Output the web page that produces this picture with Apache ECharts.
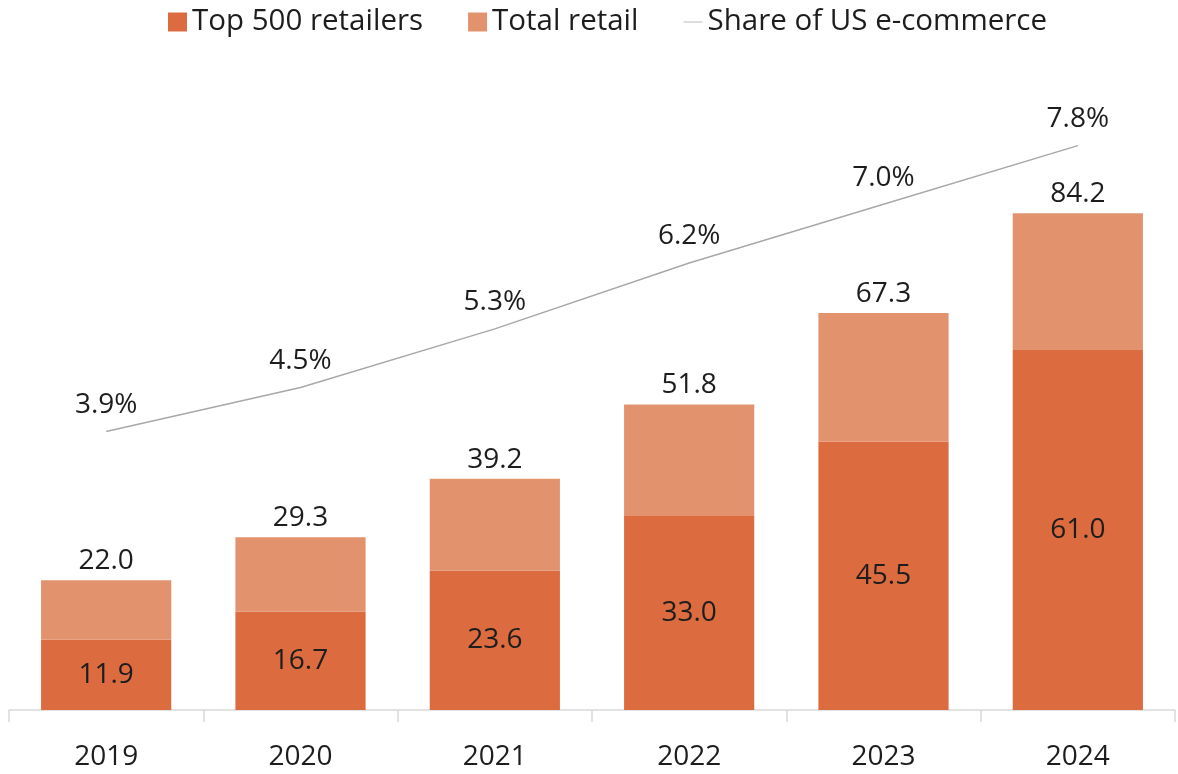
<!DOCTYPE html>
<html>
<head>
<meta charset="utf-8">
<script src="https://cdn.jsdelivr.net/npm/echarts@6/dist/echarts.min.js"></script>
<style>
  html, body { margin: 0; padding: 0; background: #ffffff; }
  #chart { width: 1178px; height: 774px; }
</style>
</head>
<body>
<div id="chart"></div>
<script>
// US e-commerce sales ($B) and share of total US e-commerce
const years = ['2019', '2020', '2021', '2022', '2023', '2024'];
const top500 = [11.9, 16.7, 23.6, 33.0, 45.5, 61.0];
const totalRetail = [22.0, 29.3, 39.2, 51.8, 67.3, 84.2];
const shareOfEcommerce = [3.9, 4.5, 5.3, 6.2, 7.0, 7.8];

// The lighter segment sits on top of the Top 500 segment so the stack reaches the total
const remainder = totalRetail.map((t, i) => +(t - top500[i]).toFixed(1));

const FONT = 'Open Sans';
const TEXT = '#1d1d1d';
const DARK = '#dc6c40';
const LIGHT = '#e3926e';
const LINE = '#a8a8a8';

const chart = echarts.init(document.getElementById('chart'), null, { renderer: 'canvas' });

chart.setOption({
  backgroundColor: '#ffffff',
  animation: false,
  textStyle: { fontFamily: FONT, color: TEXT },
  legend: {
    top: 2,
    left: 163,
    itemGap: 45,
    itemWidth: 19,
    itemHeight: 19,
    textStyle: { fontFamily: FONT, fontSize: 29.5, color: TEXT },
    data: [
      { name: 'Top 500 retailers', icon: 'rect' },
      { name: 'Total retail', icon: 'rect' },
      { name: 'Share of US e-commerce', icon: 'path://M0,0 L24,0 L24,1 L0,1 Z', itemStyle: { color: LINE, opacity: 1 } }
    ]
  },
  grid: { left: 9, right: 3, top: 120, bottom: 64, containLabel: false },
  xAxis: {
    type: 'category',
    data: years,
    boundaryGap: true,
    axisLine: { show: true, lineStyle: { color: '#d9d9d9', width: 1.5 } },
    axisTick: { show: true, length: 12, lineStyle: { color: '#d9d9d9', width: 1.5 } },
    axisLabel: { fontFamily: FONT, fontSize: 28, color: TEXT, margin: 33 }
  },
  yAxis: [
    { type: 'value', min: 0, max: 100, show: false, splitLine: { show: false } },
    { type: 'value', min: 0.1, max: 8.15, show: false, splitLine: { show: false } }
  ],
  series: [
    {
      name: 'Top 500 retailers',
      type: 'bar',
      stack: 'sales',
      data: top500,
      barCategoryGap: '33%',
      itemStyle: { color: DARK },
      label: {
        show: true,
        position: 'inside',
        fontFamily: FONT,
        fontSize: 28,
        color: TEXT,
        formatter: p => top500[p.dataIndex].toFixed(1)
      }
    },
    {
      name: 'Total retail',
      type: 'bar',
      stack: 'sales',
      data: remainder,
      barCategoryGap: '33%',
      itemStyle: { color: LIGHT },
      label: {
        show: true,
        position: 'top',
        distance: 5,
        fontFamily: FONT,
        fontSize: 28,
        color: TEXT,
        formatter: p => totalRetail[p.dataIndex].toFixed(1)
      }
    },
    {
      name: 'Share of US e-commerce',
      type: 'line',
      yAxisIndex: 1,
      data: shareOfEcommerce,
      symbol: 'circle',
      symbolSize: 1,
      showSymbol: true,
      lineStyle: { color: LINE, width: 1.5 },
      itemStyle: { color: 'rgba(0,0,0,0)' },
      label: {
        show: true,
        position: 'top',
        distance: 12,
        fontFamily: FONT,
        fontSize: 28,
        color: TEXT,
        formatter: p => shareOfEcommerce[p.dataIndex].toFixed(1) + '%'
      },
      z: 5
    }
  ]
});
</script>
</body>
</html>
